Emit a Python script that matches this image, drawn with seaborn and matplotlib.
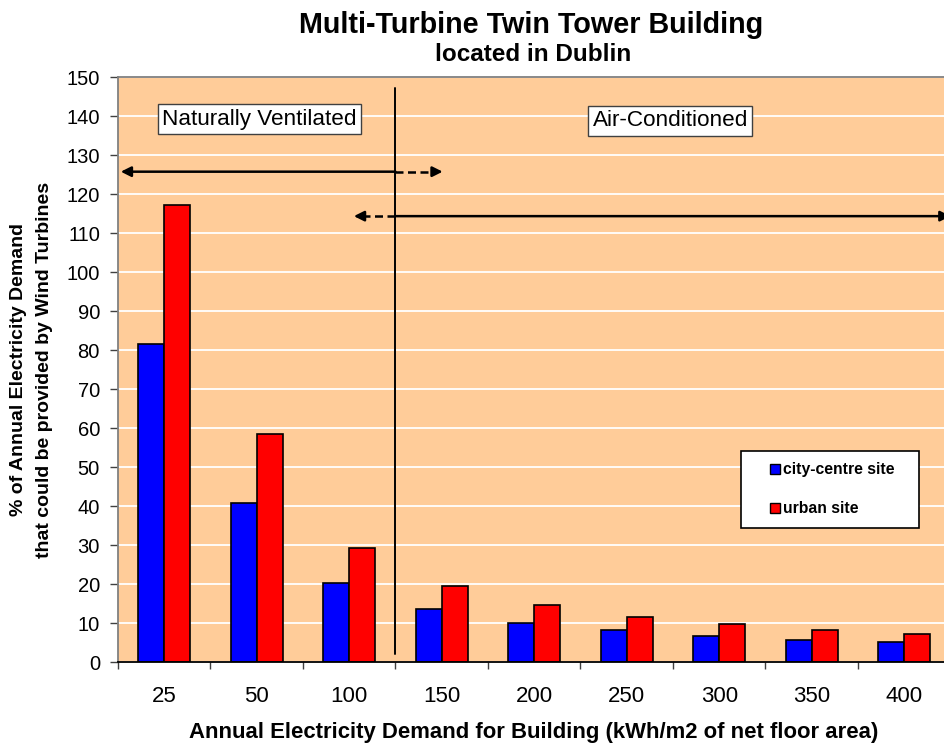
import matplotlib
matplotlib.use("Agg")
import matplotlib.pyplot as plt
from matplotlib.lines import Line2D
from matplotlib.ticker import FixedLocator
import seaborn as sns
import pandas as pd

# ---- data ----
categories = ["25", "50", "100", "150", "200", "250", "300", "350", "400"]
series_names = ["city-centre site", "urban site"]
city_centre = [81.6, 40.8, 20.4, 13.6, 10.2, 8.2, 6.8, 5.8, 5.1]
urban = [117.2, 58.6, 29.3, 19.5, 14.7, 11.7, 9.8, 8.4, 7.3]
y_ticks = list(range(0, 151, 10))

title_line1 = "Multi-Turbine Twin Tower Building"
title_line2 = "located in Dublin"
x_label = "Annual Electricity Demand for Building (kWh/m2 of net floor area)"
y_label1 = "% of Annual Electricity Demand"
y_label2 = "that could be provided by Wind Turbines"
zone_labels = ["Naturally Ventilated", "Air-Conditioned"]

colors = {"city-centre site": "#0000FF", "urban site": "#FF0000"}

df = pd.DataFrame({
    "demand": categories * 2,
    "site": [series_names[0]] * len(categories) + [series_names[1]] * len(categories),
    "value": city_centre + urban,
})

sns.set_style("white")
plt.rcParams["font.family"] = ["Liberation Sans", "DejaVu Sans"]
plt.rcParams["text.color"] = "black"
plt.rcParams["axes.labelcolor"] = "black"
plt.rcParams["xtick.color"] = "black"
plt.rcParams["ytick.color"] = "black"

W, H = 945, 744
fig = plt.figure(figsize=(W / 100, H / 100), dpi=100)
ax = fig.add_axes([118 / W, 1 - 662.3 / H, 832.5 / W, 585 / H])

sns.barplot(data=df, x="demand", y="value", hue="site", order=categories,
            hue_order=series_names, palette=colors, width=0.56,
            edgecolor="black", linewidth=1.2, errorbar=None, legend=False,
            saturation=1, ax=ax)

ax.set_facecolor("#FFCC99")
ax.set_ylim(0, 150)
ax.set_xlim(-0.5, len(categories) - 0.5)
ax.set_yticks(y_ticks)
ax.set_yticklabels([str(t) for t in y_ticks], fontsize=14.5, color="black")
ax.yaxis.grid(True, color="white", linewidth=1.3)
ax.xaxis.grid(False)
ax.set_axisbelow(True)
ax.set_xlabel("")
ax.set_ylabel("")

ax.tick_params(axis="y", direction="out", length=6, width=1, color="#404040",
               pad=7, left=True, labelcolor="black")
ax.tick_params(axis="x", which="major", length=0, pad=17, labelsize=16,
               labelcolor="black")
ax.xaxis.set_minor_locator(FixedLocator([i + 0.5 for i in range(-1, len(categories))]))
ax.tick_params(axis="x", which="minor", direction="out", length=5, width=1,
               color="#404040", bottom=True)

for s in ["top", "left"]:
    ax.spines[s].set_color("#808080")
    ax.spines[s].set_linewidth(1.3)
ax.spines["bottom"].set_color("black")
ax.spines["bottom"].set_linewidth(1.3)
ax.spines["right"].set_visible(False)

# divider line between the two zones
boundary = 2.5
ax.plot([boundary, boundary], [2.1, 147.3], color="black", lw=1.4, zorder=5)

# arrows
lw_ar = 1.8
arrow_style = "-|>,head_length=0.6,head_width=0.3"


def solid_arrow(x0, x1, y):
    ax.annotate("", xy=(x1, y), xytext=(x0, y),
                arrowprops=dict(arrowstyle=arrow_style, color="black", lw=lw_ar,
                                shrinkA=0, shrinkB=0),
                annotation_clip=False, zorder=6)


def dashed_arrow(x0, x1, y):
    d = 1 if x1 > x0 else -1
    ax.plot([x0, x1 - d * 0.07], [y, y], color="black", lw=lw_ar,
            linestyle=(0, (3.2, 1.8)), solid_capstyle="butt", zorder=6)
    ax.annotate("", xy=(x1, y), xytext=(x1 - d * 0.1, y),
                arrowprops=dict(arrowstyle=arrow_style, color="black", lw=lw_ar,
                                shrinkA=0, shrinkB=0),
                annotation_clip=False, zorder=6)


solid_arrow(boundary, -0.47, 125.8)
dashed_arrow(boundary, 3.01, 125.8)
solid_arrow(boundary, 8.5, 114.4)
dashed_arrow(boundary, 2.05, 114.4)

# zone labels
box = dict(boxstyle="square,pad=0.2", facecolor="white", edgecolor="#404040", lw=1.0)
ax.text(1.03, 139.3, zone_labels[0], ha="center", va="center", fontsize=16.2,
        bbox=box, zorder=7)
ax.text(5.47, 138.8, zone_labels[1], ha="center", va="center", fontsize=16.2,
        bbox=box, zorder=7)

# titles and axis labels
fig.text(530.8 / W, 1 - 33 / H, title_line1, ha="center", va="baseline",
         fontsize=20.7, fontweight="bold")
fig.text(532.8 / W, 1 - 61 / H, title_line2, ha="center", va="baseline",
         fontsize=17.5, fontweight="bold")
fig.text(533.3 / W, 1 - 738.3 / H, x_label, ha="center", va="baseline",
         fontsize=15.9, fontweight="bold")
fig.text(19 / W, 1 - 370 / H, y_label1, ha="center", va="center", rotation=90,
         fontsize=14, fontweight="bold")
fig.text(45 / W, 1 - 370 / H, y_label2, ha="center", va="center", rotation=90,
         fontsize=14, fontweight="bold")

# legend
handles = [Line2D([], [], ls="none", marker="s", markersize=7.5,
                  markerfacecolor=colors[n], markeredgecolor="black",
                  markeredgewidth=1.0) for n in series_names]
leg = fig.legend(handles, series_names, loc="upper left",
                 bbox_to_anchor=(740.7 / W, 1 - 525.3 / H, 178.6 / W, 74.6 / H),
                 mode="expand", borderaxespad=0, borderpad=0.75, labelspacing=1.5,
                 handlelength=2.9, handletextpad=-0.95, frameon=True,
                 fancybox=False, edgecolor="black", framealpha=1,
                 prop={"weight": "bold", "size": 11.3})
leg.get_frame().set_linewidth(1.2)

fig.savefig("out.png", dpi=100)
